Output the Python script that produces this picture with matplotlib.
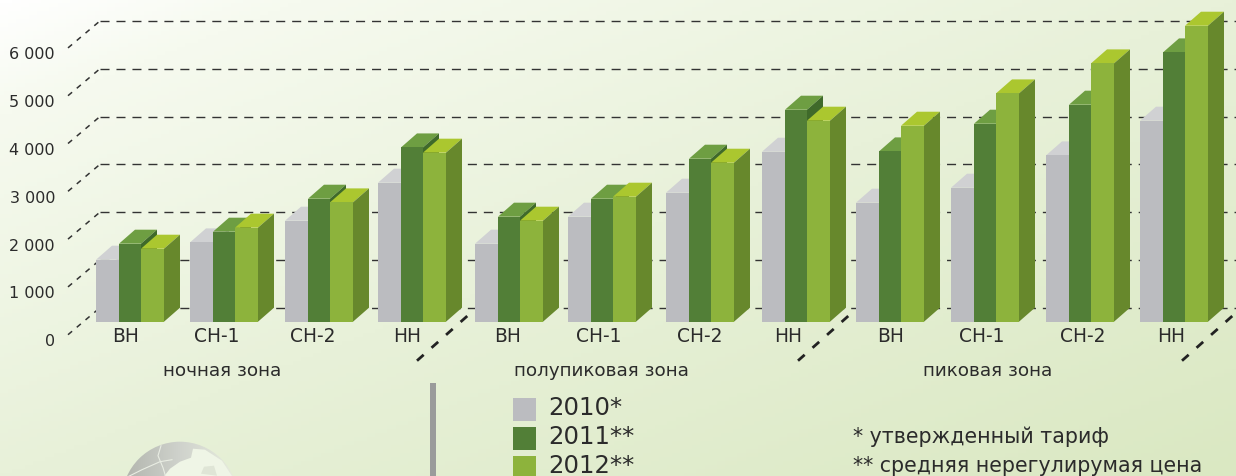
import matplotlib
matplotlib.use("Agg")
import matplotlib.pyplot as plt
from matplotlib.colors import LinearSegmentedColormap
from matplotlib.patches import Ellipse, Polygon, Rectangle
import numpy as np

zones = ["ночная зона", "полупиковая зона", "пиковая зона"]
voltage = ["ВН", "СН-1", "СН-2", "НН"]
years = ["2010*", "2011**", "2012**"]
y_ticks = [0, 1000, 2000, 3000, 4000, 5000, 6000]
y_tick_labels = ["0", "1 000", "2 000", "3 000", "4 000", "5 000", "6 000"]

tariff_2010 = [1297, 1659, 2113, 2908, 1632, 2197, 2699, 3556, 2490, 2803, 3479, 4205]
tariff_2011 = [1632, 1883, 2573, 3646, 2197, 2573, 3410, 4435, 3563, 4142, 4540, 5634]
tariff_2012 = [1527, 1967, 2496, 3536, 2113, 2615, 3326, 4205, 4100, 4776, 5404, 6192]

notes = ["* утвержденный тариф", "** средняя нерегулирумая цена"]

# layout, in pixels of the picture
W, H = 1236, 477
PX = 0.0478  # px per rouble
BASE = 322
DX = 16
DY = 14 / PX
group_left = [96, 190, 285, 378, 475, 568, 666, 762, 856, 951, 1046, 1140]
label_x = [126, 217, 313, 407, 508, 599, 700, 788, 891, 982, 1083, 1171]
bar_w = [23, 22, 23]

FRONT = ["#bbbcc0", "#527f37", "#8db33c"]
TOP = ["#d0d1d3", "#6e9e42", "#abc72f"]
SIDE = ["#a9aaae", "#3f6a2a", "#67882c"]
TEXT = "#2b2b2b"


def py(v):
    # pixel row -> data value
    return (BASE - v) / PX


fig = plt.figure(figsize=(W / 100, H / 100), dpi=100)
ax = fig.add_axes([0, 0, 1, 1])
ax.axis("off")

# background
xx, yy = np.meshgrid(np.linspace(0, 1, 300), np.linspace(0, 1, 120))
grad = 0.5 * xx + 0.5 * yy
bg = LinearSegmentedColormap.from_list(
    "bg", [(0, "#ffffff"), (0.12, "#f6faef"), (0.5, "#e8f1d9"), (1, "#dae8c2")])
ax.imshow(grad, cmap=bg, extent=(0, W, py(H), py(0)), origin="upper", aspect="auto", zorder=0)

# back wall grid
for t in y_ticks:
    ax.plot([100, W], [t + DY, t + DY], color="#333333", lw=1.0, dashes=(6.5, 5), zorder=1)
    ax.plot([68, 100], [t - 13 / PX, t + DY], color="#333333", lw=1.1, dashes=(3.5, 4), zorder=1)

# floor separators between zones
for x0 in [417, 798, 1182]:
    ax.plot([x0, x0 + 54], [py(361), py(313)], color="#222222", lw=2.0, dashes=(3.2, 3.8), zorder=1)

# bars
series = [tariff_2010, tariff_2011, tariff_2012]
for i, left in enumerate(group_left):
    x = left
    for s, vals in enumerate(series):
        w = bar_w[s]
        v = vals[i]
        ax.add_patch(Polygon([(x, v), (x + w, v), (x + w + DX, v + DY), (x + DX, v + DY)],
                             closed=True, fc=TOP[s], ec="none", zorder=3 + s))
        ax.add_patch(Polygon([(x + w, 0), (x + w + DX, DY), (x + w + DX, v + DY), (x + w, v)],
                             closed=True, fc=SIDE[s], ec="none", zorder=3 + s))
        ax.bar(x, v, width=w, bottom=0, align="edge", color=FRONT[s], zorder=3 + s)
        x += w
    ax.text(label_x[i], py(336), voltage[i % 4], ha="center", va="center",
            fontsize=13.4, color=TEXT, zorder=8)

# y tick labels
for t, lab in zip(y_ticks, y_tick_labels):
    ax.text(55, t - 19 / PX, lab, ha="right", va="center", fontsize=11.5, color=TEXT)

# zone names
for x, name in zip([222, 601, 988], zones):
    ax.text(x, py(370), name, ha="center", va="center", fontsize=13.2, color=TEXT)

# divider
ax.add_patch(Rectangle((430, py(477)), 5.5, py(383) - py(477), fc="#9a9b9b", ec="none", zorder=2))

# legend
for k, (row, lab) in enumerate(zip([398, 427, 456], years)):
    ax.add_patch(Rectangle((513, py(row + 23)), 23, 23 / PX, fc=FRONT[k], ec="none", zorder=2))
    ax.text(548, py(row + 9), lab, ha="left", va="center", fontsize=17.6, color=TEXT)

for row, note in zip([436, 465], notes):
    ax.text(853, py(row), note, ha="left", va="center", fontsize=14.8, color=TEXT)

# globe at the bottom, cut by the edge of the picture
gx, gy = np.meshgrid(np.linspace(-1, 1, 200), np.linspace(-1, 1, 200))
shade = LinearSegmentedColormap.from_list("globe", ["#b4b7b0", "#cfd2cc", "#e6ebdd"])
globe = ax.imshow(np.clip(0.5 + 0.55 * gx, 0, 1), cmap=shade, vmin=0, vmax=1,
                  extent=(122, 238, py(442 + 116), py(442)), origin="upper", aspect="auto", zorder=2)
globe.set_clip_path(Ellipse((180, py(500)), 116, 116 / PX, transform=ax.transData))
land = Polygon([(163, py(478)), (170, py(469)), (180, py(462)), (191, py(458)), (193, py(449)),
                (205, py(450)), (222, py(461)), (233, py(478))],
               closed=True, fc="#eff5e6", ec="none", zorder=3)
ax.add_patch(land)
ax.add_patch(Polygon([(201, py(474)), (204, py(467)), (214, py(466)), (217, py(476))],
                     closed=True, fc="#dfe5d6", ec="none", zorder=4))
ax.plot([161, 158, 163, 166], [py(446), py(456), py(468), py(478)], color="#e9ede3", lw=0.8, zorder=4)
ax.plot([128, 142, 160, 172], [py(477), py(470), py(462), py(460)], color="#e9ede3", lw=0.8, zorder=4)

# half pixel shift so bars sit on the same rows as the picture
ax.set_xlim(0, W)
ax.set_ylim(py(H - 0.7), py(-0.7))
fig.savefig("out.png", dpi=100)
